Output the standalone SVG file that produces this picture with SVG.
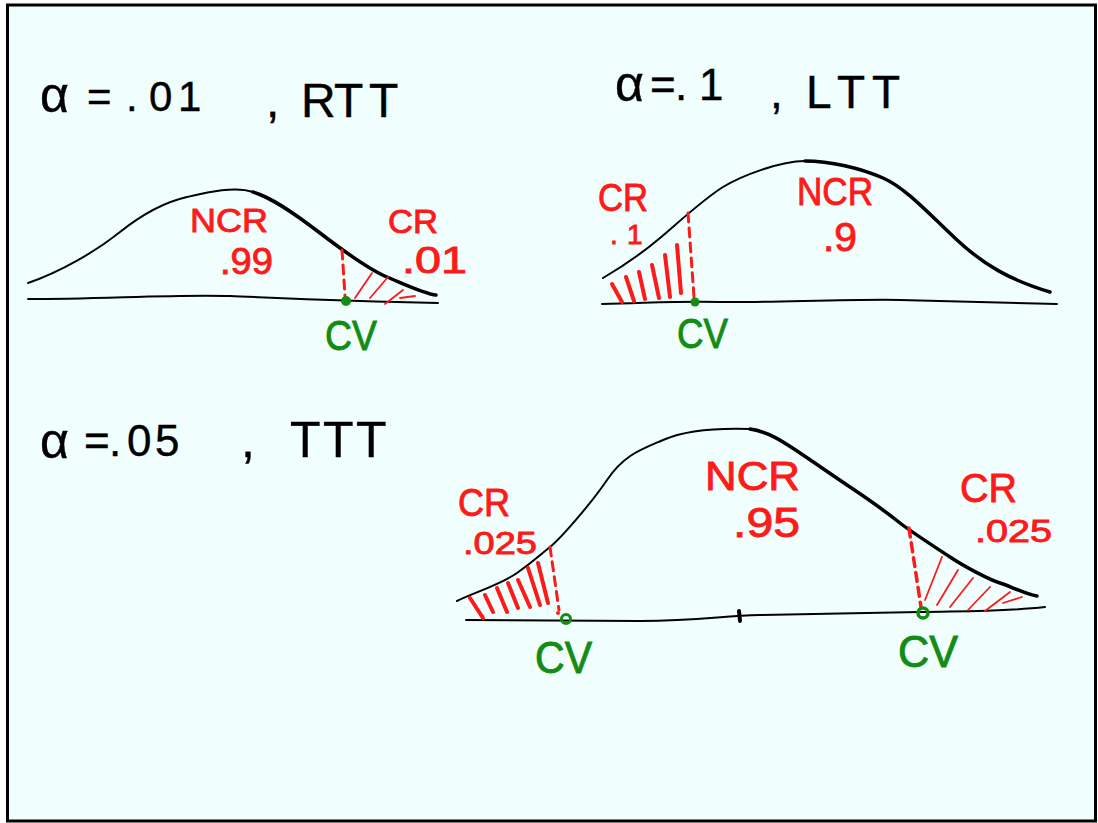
<svg xmlns="http://www.w3.org/2000/svg" width="1098" height="823" viewBox="0 0 1098 823">
<style>
.t{font-family:"Liberation Sans",Arial,sans-serif;}
.blk{fill:#000;stroke:#000;stroke-width:0.4;}
.red{fill:#ff1a1a;stroke:#ff1a1a;stroke-width:0.9;}
.grn{fill:#148c14;stroke:#148c14;stroke-width:0.9;}
.thin{fill:none;stroke:#000;stroke-width:2;stroke-linecap:round;stroke-linejoin:round;}
.thick{fill:none;stroke:#000;stroke-width:3.5;stroke-linecap:round;stroke-linejoin:round;}
.dash{fill:none;stroke:#ff1a1a;stroke-width:3;stroke-dasharray:9 6;stroke-linecap:round;}
.hthin{fill:none;stroke:#ff1a1a;stroke-width:1.8;stroke-linecap:round;}
.hthick{fill:none;stroke:#ff1a1a;stroke-width:4;stroke-linecap:round;}
</style>
<rect x="0" y="0" width="1098" height="823" fill="#ffffff"/>
<rect x="7.5" y="5" width="1088" height="816" fill="#f0fffd" stroke="#000" stroke-width="3"/>

<g id="panel-rtt">
  <text class="t blk" x="40" y="112" font-size="50">α</text>
  <text class="t blk" x="87 126 149 178" y="111" font-size="42">=.01</text>
  <text class="t blk" x="266 301 334 369" y="117" font-size="48">,RTT</text>
  <path class="thin" d="M28,299 C100,299 180,294 230,296 S340,301 438,303"/>
  <path class="thin" d="M28,283 C60,272 95,252 120,232 S165,202 187,197 S235,186 253,192"/>
  <path class="thick" d="M253,192 C270,197 290,210 320,233 S370,270 387,277 S425,294 436,295"/>
  <path class="dash" d="M342,250 L345,296"/>
  <path class="hthin" d="M355,298 L372,273 M370,298 L388,277 M385,304 L403,290 M400,298 L415,296"/>
  <circle cx="346" cy="301" r="5" fill="#148c14"/>
  <text class="t red" x="190" y="232" font-size="34" textLength="78" lengthAdjust="spacingAndGlyphs">NCR</text>
  <text class="t red" x="220" y="274" font-size="36" textLength="53" lengthAdjust="spacingAndGlyphs">.99</text>
  <text class="t red" x="388" y="233" font-size="34" textLength="50" lengthAdjust="spacingAndGlyphs">CR</text>
  <text class="t red" x="402" y="273" font-size="36" textLength="65" lengthAdjust="spacingAndGlyphs">.01</text>
  <text class="t grn" x="325" y="350" font-size="42" textLength="52" lengthAdjust="spacingAndGlyphs">CV</text>
</g>

<g id="panel-ltt">
  <text class="t blk" x="615" y="101" font-size="50">α</text>
  <text class="t blk" x="650 675 699" y="100" font-size="44">=.1</text>
  <text class="t blk" x="770 806 837 872" y="108" font-size="46">,LTT</text>
  <path class="thin" d="M602,304 C650,303 680,301 720,302 S850,299 900,300 S1000,303 1057,304"/>
  <path class="thin" d="M603,278 C620,268 640,255 660,238 S705,198 723,187 S780,161 805,161"/>
  <path class="thick" d="M805,161 C830,161 860,168 883,178 S930,215 957,240 S1010,280 1050,292"/>
  <path class="dash" d="M688,213 L694,297"/>
  <path class="hthick" d="M612,284 L622,302 M626,277 L634,301 M639,272 L645,299 M652,265 L659,298 M665,255 L670,297 M677,245 L681,293"/>
  <circle cx="695" cy="302" r="4.5" fill="#148c14"/>
  <text class="t red" x="598" y="211" font-size="38" textLength="50" lengthAdjust="spacingAndGlyphs">CR</text>
  <text class="t red" x="610 627" y="244" font-size="28">.1</text>
  <text class="t red" x="797" y="205" font-size="38" textLength="76" lengthAdjust="spacingAndGlyphs">NCR</text>
  <text class="t red" x="823" y="251" font-size="40" textLength="34" lengthAdjust="spacingAndGlyphs">.9</text>
  <text class="t grn" x="677" y="348" font-size="42" textLength="51" lengthAdjust="spacingAndGlyphs">CV</text>
</g>

<g id="panel-ttt">
  <text class="t blk" x="40" y="458" font-size="50">α</text>
  <text class="t blk" x="84 109 127 155" y="456" font-size="44">=.05</text>
  <text class="t blk" x="241 290 323 356" y="457" font-size="50">,TTT</text>
  <path class="thin" d="M466,620 C520,620 580,621 640,621 S720,616 760,615 S880,613 920,612 S1000,612 1045,607"/>
  <path class="thin" d="M457,601 C470,594 500,585 517,573 S540,555 550,547 S590,505 607,480 S640,450 663,440 S720,428 750,429"/>
  <path class="thick" d="M750,429 C770,432 785,443 800,453 S835,477 850,487 S890,515 900,523 S935,547 950,557 S990,580 1000,583 S1025,594 1037,596"/>
  <path d="M739,611 L740,621" stroke="#000" stroke-width="4" stroke-linecap="round"/>
  <path class="dash" d="M550,547 L559,610"/>
  <path class="dash" d="M909,528 L921,607" style="stroke-width:3.5"/>
  <path class="hthick" d="M470,598 L483,618 M485,595 L493,612 M497,588 L507,612 M508,583 L518,608 M518,580 L530,607 M528,568 L540,605 M538,563 L548,603"/>
  <path class="hthin" d="M925,600 L942,557 M937,605 L958,570 M950,607 L973,578 M968,610 L990,587 M985,611 L1010,592 M1003,603 L1022,597"/>
  <circle cx="558" cy="613" r="2" fill="#ff1a1a"/>
  <circle cx="566" cy="619" r="4.5" fill="none" stroke="#148c14" stroke-width="3"/>
  <circle cx="923" cy="613" r="5" fill="none" stroke="#148c14" stroke-width="3.5"/>
  <text class="t red" x="458" y="516" font-size="38" textLength="52" lengthAdjust="spacingAndGlyphs">CR</text>
  <text class="t red" x="463" y="554" font-size="32" textLength="74" lengthAdjust="spacingAndGlyphs">.025</text>
  <text class="t red" x="705" y="490" font-size="40" textLength="95" lengthAdjust="spacingAndGlyphs">NCR</text>
  <text class="t red" x="733" y="537" font-size="42" textLength="67" lengthAdjust="spacingAndGlyphs">.95</text>
  <text class="t red" x="960" y="502" font-size="40" textLength="57" lengthAdjust="spacingAndGlyphs">CR</text>
  <text class="t red" x="975" y="542" font-size="32" textLength="77" lengthAdjust="spacingAndGlyphs">.025</text>
  <text class="t grn" x="535" y="673" font-size="44" textLength="57" lengthAdjust="spacingAndGlyphs">CV</text>
  <text class="t grn" x="898" y="667" font-size="44" textLength="60" lengthAdjust="spacingAndGlyphs">CV</text>
</g>
</svg>
